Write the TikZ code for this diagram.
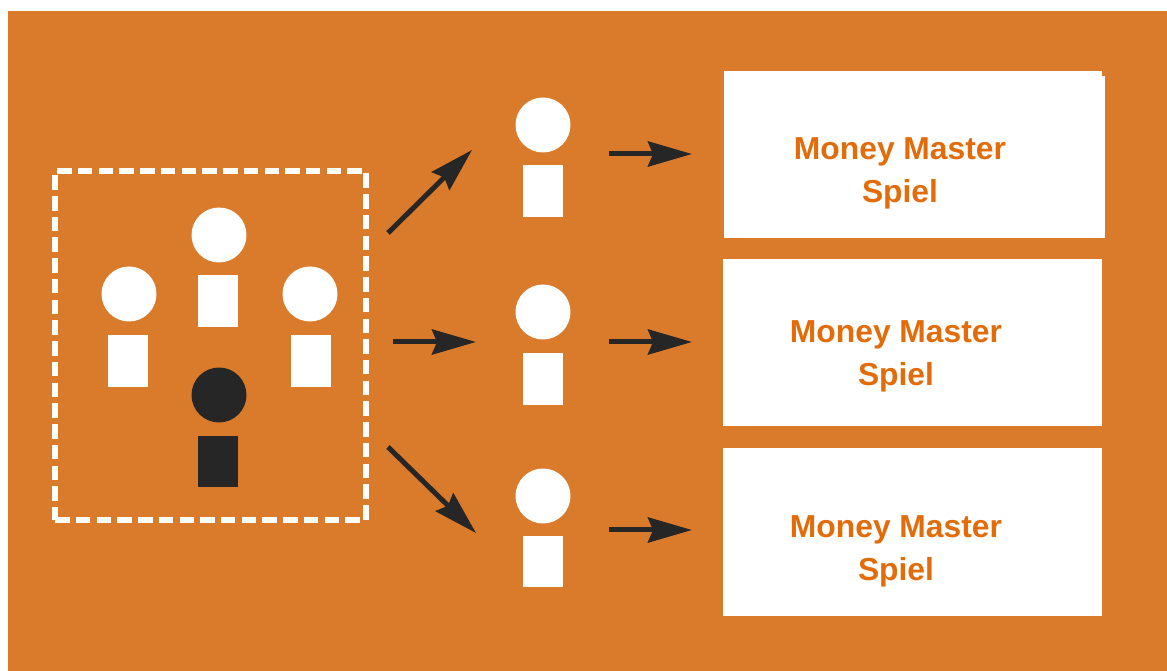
\documentclass[tikz,border=0pt]{standalone}
\usepackage{fontspec}
\setmainfont{Liberation Sans}
\usetikzlibrary{arrows.meta}
\definecolor{bgorange}{HTML}{D97B2B}
\definecolor{textorange}{HTML}{E36C0A}
\definecolor{darkfig}{HTML}{262626}
\tikzset{
  head/.style={circle,fill=#1,inner sep=0pt,minimum size=1.1cm},
  torso/.style={rectangle,fill=#1,inner sep=0pt,minimum width=.8cm,minimum height=1.04cm},
  result/.style={rectangle,fill=white,inner sep=0pt,minimum width=7.58cm,minimum height=3.36cm},
  label/.style={text=textorange,align=center,font=\fontsize{18.1}{24.4}\selectfont\bfseries},
  link/.style={draw=darkfig,line width=.1cm,-{Stealth[length=.88cm,width=.5cm,inset=.1cm]}}
}
\begin{document}
\begin{tikzpicture}[x=.02cm,y=-.02cm]
\useasboundingbox (0,0) rectangle (1167,671);
\fill[white] (0,0) rectangle (1167,671);
\fill[bgorange] (8,11) rectangle (1167,671);

\node (group)[rectangle,draw=white,line width=.11cm,dash pattern=on .29cm off .125cm,inner sep=0pt,minimum width=6.22cm,minimum height=6.98cm] at (210.5,345.5) {};

\node (headl)[head=white] at (129,294) {};
\node (torsol)[torso=white] at (128,361) {};
\node (headt)[head=white] at (219,235) {};
\node (torsot)[torso=white] at (218,301.5) {};
\node (headr)[head=white] at (310,294) {};
\node (torsor)[torso=white] at (311,361) {};
\node (headb)[head=darkfig] at (219,395) {};
\node (torsob)[torso=darkfig] at (218,461.5) {};

\node (heada)[head=white] at (543,125) {};
\node (torsoa)[torso=white] at (543,191) {};
\node (headm)[head=white] at (543,312) {};
\node (torsom)[torso=white] at (543,379) {};
\node (headc)[head=white] at (543,496) {};
\node (torsoc)[torso=white] at (543,561.5) {};

\node (boxa)[result] at (913,154.5) {};
\fill[white] (1100,76) rectangle (1105,238.5);
\node (boxm)[result] at (912.5,342.5) {};
\node (boxc)[result] at (912.5,532) {};

\node (labela)[label] at (900,173) {Money Master\\Spiel};
\node (labelm)[label] at (896,356) {Money Master\\Spiel};
\node (labelc)[label] at (896,551) {Money Master\\Spiel};

\coordinate (froma) at (388,233);
\coordinate (toa) at (472,150);
\coordinate (fromm) at (393,342);
\coordinate (tom) at (476,342);
\coordinate (fromc) at (388,447);
\coordinate (toc) at (476,533);
\draw[link] (froma) -- (toa);
\draw[link] (fromm) -- (tom);
\draw[link] (fromc) -- (toc);

\coordinate (outa) at (609,154);
\coordinate (enda) at (692,154);
\coordinate (outm) at (609,342);
\coordinate (endm) at (692,342);
\coordinate (outc) at (609,530);
\coordinate (endc) at (692,530);
\draw[link] (outa) -- (enda);
\draw[link] (outm) -- (endm);
\draw[link] (outc) -- (endc);
\end{tikzpicture}
\end{document}
